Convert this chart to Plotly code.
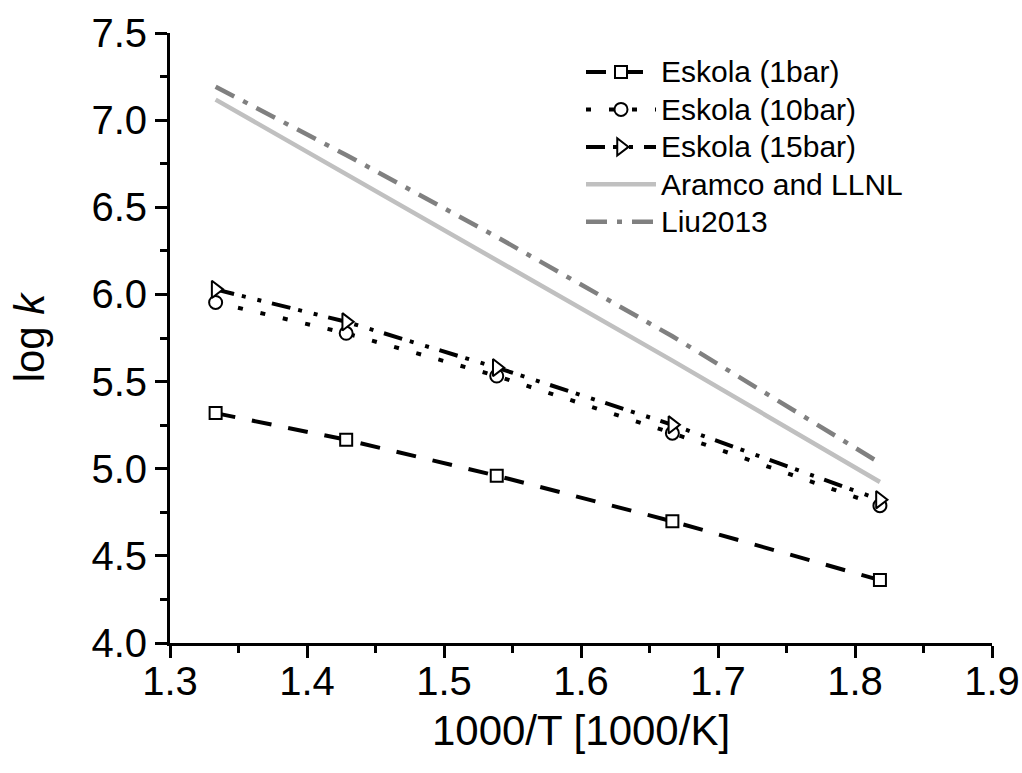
import plotly.graph_objects as go

# x positions: 1000/T for T = 750, 700, 650, 600, 550 K
x_inv_T = [1.3333, 1.4286, 1.5385, 1.6667, 1.8182]

eskola_1bar = [5.319, 5.166, 4.960, 4.698, 4.361]
eskola_10bar = [5.954, 5.777, 5.532, 5.204, 4.788]
eskola_15bar = [6.029, 5.843, 5.580, 5.252, 4.822]
aramco_llnl = [7.118, 6.690, 6.200, 5.620, 4.924]
liu2013 = [7.192, 6.800, 6.330, 5.760, 5.033]

x_ticks = [1.3, 1.4, 1.5, 1.6, 1.7, 1.8, 1.9]
y_ticks = [4.0, 4.5, 5.0, 5.5, 6.0, 6.5, 7.0, 7.5]

FONT = "Liberation Sans, Arial, sans-serif"

def lg(name):
    return '<span style="font-size:30px">' + name + '</span>'

fig = go.Figure()

fig.add_trace(go.Scatter(
    x=x_inv_T, y=eskola_1bar, name=lg("Eskola (1bar)"), mode="lines+markers",
    line=dict(color="black", width=4, dash="20px,17px"),
    marker=dict(symbol="square", size=12, color="white", line=dict(color="black", width=2)),
))
fig.add_trace(go.Scatter(
    x=x_inv_T, y=eskola_10bar, name=lg("Eskola (10bar)"), mode="lines+markers",
    line=dict(color="black", width=4, dash="5px,18px"),
    marker=dict(symbol="circle", size=13, color="white", line=dict(color="black", width=2)),
))
fig.add_trace(go.Scatter(
    x=x_inv_T, y=eskola_15bar, name=lg("Eskola (15bar)"), mode="lines+markers",
    line=dict(color="black", width=4, dash="19px,8px,4px,12px,4px,11px"),
    marker=dict(symbol="triangle-right", size=15, color="white", line=dict(color="black", width=2)),
))
fig.add_trace(go.Scatter(
    x=x_inv_T, y=aramco_llnl, name=lg("Aramco and LLNL"), mode="lines",
    line=dict(color="#c0c0c0", width=4.5),
))
fig.add_trace(go.Scatter(
    x=x_inv_T, y=liu2013, name=lg("Liu2013"), mode="lines",
    line=dict(color="#808080", width=4.5, dash="21px,10px,5px,10px"),
))

axis_common = dict(
    showline=True, linecolor="black", linewidth=3,
    ticks="outside", ticklen=12, tickwidth=3, tickcolor="black",
    showgrid=False, zeroline=False, mirror=False, automargin=False,
    tickfont=dict(family=FONT, size=40, color="black"),
)

fig.update_layout(
    width=1022, height=773,
    margin=dict(l=170, r=30, t=33, b=130),
    paper_bgcolor="white", plot_bgcolor="white",
    font=dict(family=FONT, color="black"),
    showlegend=True,
    legend=dict(
        x=0.50, y=0.975, xanchor="left", yanchor="top",
        bgcolor="rgba(0,0,0,0)", borderwidth=0,
        font=dict(family=FONT, size=26.5, color="black"),
        itemwidth=70, tracegroupgap=0,
    ),
    xaxis=dict(
        **axis_common,
        range=[1.3, 1.9], tickvals=x_ticks, ticktext=[f"{v:.1f}" for v in x_ticks],
        ticklabelstandoff=-11,
        minor=dict(ticks="outside", ticklen=7, tickwidth=3, tickcolor="black", dtick=0.05, tick0=1.3),
        title=dict(text="1000/T [1000/K]", font=dict(family=FONT, size=42, color="black"), standoff=14),
    ),
    yaxis=dict(
        **axis_common,
        range=[4.0, 7.5], tickvals=y_ticks, ticktext=[f"{v:.1f}" for v in y_ticks],
        minor=dict(ticks="outside", ticklen=7, tickwidth=3, tickcolor="black", dtick=0.25, tick0=4.0),
        title=dict(text="log <i>k</i>", font=dict(family=FONT, size=42, color="black"), standoff=34),
    ),
)

fig.write_html("out.html")
